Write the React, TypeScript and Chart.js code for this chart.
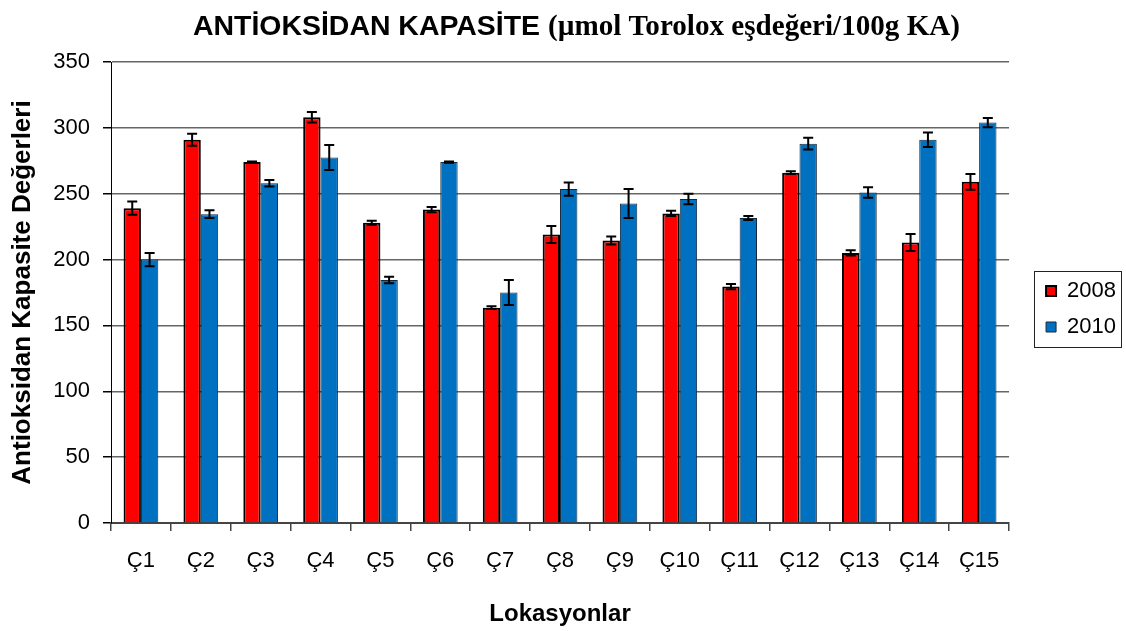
import { useEffect, useRef } from "react";
import { Chart, registerables } from "chart.js";

Chart.register(...registerables);

const categories = ["Ç1", "Ç2", "Ç3", "Ç4", "Ç5", "Ç6", "Ç7", "Ç8", "Ç9", "Ç10", "Ç11", "Ç12", "Ç13", "Ç14", "Ç15"];
const values2008 = [239, 291, 274, 308, 228, 238, 163.5, 219, 214.5, 235, 179.5, 266, 205, 213, 259];
const errors2008 = [5, 4.5, 0.5, 4, 1.5, 2, 1, 6.5, 3, 2, 2, 1, 2, 6.5, 6];
const values2010 = [200, 234.5, 258, 277.5, 184.5, 274, 175, 253.5, 242.5, 246, 231.5, 288, 251, 291, 304];
const errors2010 = [5, 3, 2.5, 9.5, 2.5, 0.5, 9.5, 5, 11, 4, 1.5, 4.5, 4, 5.5, 3.5];
const seriesLabels = ["2008", "2010"];

const TITLE_MAIN = "ANTİOKSİDAN KAPASİTE";
const TITLE_UNIT = "(µmol Torolox eşdeğeri/100g KA)";
const Y_TITLE = "Antioksidan Kapasite Değerleri";
const X_TITLE = "Lokasyonlar";

const SANS = '"Liberation Sans", Arial, sans-serif';
const SERIF = '"Liberation Serif", "Times New Roman", serif';

const errorBarPlugin = {
  id: "errorBars",
  afterDatasetsDraw(chart: any) {
    const ctx = chart.ctx;
    const yScale = chart.scales.y;
    chart.data.datasets.forEach((ds: any, di: number) => {
      const meta = chart.getDatasetMeta(di);
      meta.data.forEach((bar: any, i: number) => {
        const v = ds.data[i];
        const e = ds.errors[i];
        const top = yScale.getPixelForValue(v + e);
        const bot = yScale.getPixelForValue(v - e);
        const x = bar.x;
        ctx.save();
        ctx.strokeStyle = "#000";
        ctx.lineWidth = 2;
        ctx.beginPath();
        ctx.moveTo(x, top);
        ctx.lineTo(x, bot);
        ctx.moveTo(x - 5, top);
        ctx.lineTo(x + 5, top);
        ctx.moveTo(x - 5, bot);
        ctx.lineTo(x + 5, bot);
        ctx.stroke();
        ctx.restore();
      });
    });
  },
};

const titlePlugin = {
  id: "mixedTitle",
  afterDraw(chart: any) {
    const ctx = chart.ctx;
    const parts = [
      { text: TITLE_MAIN, font: `bold 28px ${SANS}`, x: 193, w: 347 },
      { text: TITLE_UNIT, font: `bold 29px ${SERIF}`, x: 548, w: 412 },
    ];
    ctx.save();
    ctx.fillStyle = "#000";
    ctx.textAlign = "left";
    ctx.textBaseline = "alphabetic";
    parts.forEach((p) => {
      ctx.font = p.font;
      const m = ctx.measureText(p.text).width;
      let s = p.w / m;
      s = Math.max(0.8, Math.min(1.2, s));
      ctx.save();
      ctx.translate(p.x, 35);
      ctx.scale(s, 1);
      ctx.fillText(p.text, 0, 0);
      ctx.restore();
    });
    ctx.restore();
  },
};

const legendBorderPlugin = {
  id: "legendBorder",
  afterDraw(chart: any) {
    const lg = chart.legend;
    if (!lg || !lg.legendHitBoxes || lg.legendHitBoxes.length === 0) return;
    const hb = lg.legendHitBoxes;
    const first = hb[0];
    const last = hb[hb.length - 1];
    const left = first.left - 12;
    const right = lg.right - 5;
    const top = first.top - 9;
    const bottom = last.top + last.height + 9;
    const ctx = chart.ctx;
    ctx.save();
    ctx.strokeStyle = "#222";
    ctx.lineWidth = 1;
    ctx.strokeRect(Math.round(left) + 0.5, Math.round(top) + 0.5, Math.round(right - left), Math.round(bottom - top));
    ctx.restore();
  },
};

export default function App() {
  const canvasRef = useRef<HTMLCanvasElement | null>(null);

  useEffect(() => {
    if (!canvasRef.current) return;
    const chart = new Chart(canvasRef.current, {
      type: "bar",
      data: {
        labels: categories,
        datasets: [
          {
            label: seriesLabels[0],
            data: values2008,
            errors: errors2008,
            backgroundColor: "#FF0000",
            borderColor: "#000000",
            borderWidth: 2,
            categoryPercentage: 0.58,
            barPercentage: 1,
          } as any,
          {
            label: seriesLabels[1],
            data: values2010,
            errors: errors2010,
            backgroundColor: "#0070C0",
            borderColor: "#14283c",
            borderWidth: 1,
            categoryPercentage: 0.58,
            barPercentage: 1,
          } as any,
        ],
      },
      options: {
        responsive: false,
        animation: false,
        devicePixelRatio: 1,
        events: [],
        layout: { padding: { top: 62, right: 0, bottom: 0, left: 0 } },
        scales: {
          x: {
            ticks: { font: { family: SANS, size: 22 }, color: "#000", padding: 17 },
            grid: { display: true, drawOnChartArea: false, offset: true, tickLength: 8, color: "#444", lineWidth: 1.5 },
            border: { color: "#444", width: 2 },
            title: {
              display: true,
              text: X_TITLE,
              font: { family: SANS, size: 24, weight: "bold" },
              color: "#000",
              padding: { top: 0, bottom: 2 },
            },
            afterFit(scale: any) {
              scale.height = 108;
            },
          },
          y: {
            min: 0,
            max: 350,
            ticks: { stepSize: 50, font: { family: SANS, size: 22 }, color: "#000", padding: 13 },
            grid: {
              color: (c: any) => (c.tick && c.tick.value === 0 ? "#444" : "#666666"),
              lineWidth: 1.5,
              tickColor: "#000",
              tickLength: 8,
            },
            border: { color: "#000", width: 1 },
            title: {
              display: true,
              text: Y_TITLE,
              font: { family: SANS, size: 26, weight: "bold" },
              color: "#000",
              padding: { top: 7, bottom: 0 },
            },
            afterFit(scale: any) {
              scale.width = 111;
            },
          },
          gap: {
            type: "linear",
            position: "right",
            display: true,
            grid: { display: false, drawTicks: false },
            border: { display: false },
            ticks: { display: false },
            afterFit(scale: any) {
              scale.width = 23;
            },
          },
        },
        plugins: {
          tooltip: { enabled: false },
          title: { display: false },
          legend: {
            position: "right",
            fullSize: false,
            align: "center",
            title: { display: true, text: " ", font: { size: 10 }, padding: { top: 10.5, bottom: 10.5 } },
            labels: {
              boxWidth: 10,
              boxHeight: 10,
              padding: 14,
              font: { family: SANS, size: 22 },
              color: "#000",
            },
          },
        },
      } as any,
      plugins: [errorBarPlugin, titlePlugin, legendBorderPlugin],
    });
    return () => chart.destroy();
  }, []);

  return (
    <div style={{ position: "absolute", left: 0, top: 0, width: 1126, height: 631, background: "#fff" }}>
      <canvas ref={canvasRef} width={1126} height={631} style={{ display: "block" }} />
    </div>
  );
}
